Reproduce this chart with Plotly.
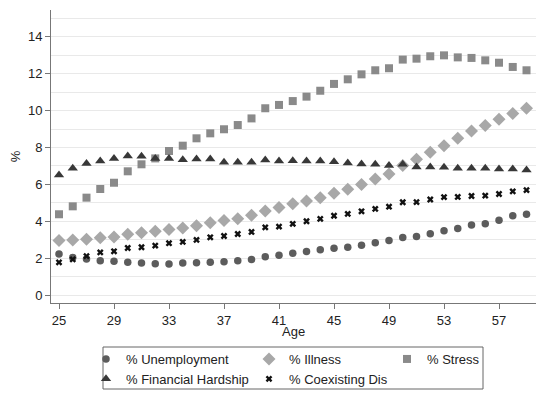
import plotly.graph_objects as go

ages = list(range(25, 60))

unemployment = [2.22, 2.04, 1.95, 1.86, 1.83, 1.77, 1.74, 1.70, 1.68, 1.74, 1.75, 1.77, 1.81, 1.86, 1.92,
                2.08, 2.15, 2.27, 2.36, 2.45, 2.53, 2.59, 2.70, 2.84, 2.95, 3.12, 3.18, 3.32, 3.48, 3.61,
                3.80, 3.86, 4.06, 4.30, 4.38]
illness = [2.95, 2.98, 3.03, 3.10, 3.14, 3.29, 3.37, 3.46, 3.55, 3.63, 3.76, 3.92, 4.04, 4.14, 4.32,
           4.55, 4.74, 4.95, 5.10, 5.27, 5.52, 5.74, 6.00, 6.29, 6.56, 7.02, 7.36, 7.74, 8.10, 8.50,
           8.90, 9.19, 9.53, 9.84, 10.13]
stress = [4.38, 4.81, 5.28, 5.75, 6.09, 6.71, 7.09, 7.41, 7.81, 8.10, 8.50, 8.77, 8.99, 9.22, 9.58,
          10.13, 10.31, 10.52, 10.76, 11.08, 11.45, 11.70, 11.97, 12.19, 12.30, 12.77, 12.82, 12.95, 13.00, 12.89,
          12.86, 12.73, 12.60, 12.37, 12.19]
hardship = [6.51, 6.87, 7.14, 7.27, 7.41, 7.54, 7.52, 7.41, 7.40, 7.34, 7.38, 7.38, 7.20, 7.20, 7.20,
            7.32, 7.27, 7.28, 7.27, 7.27, 7.23, 7.16, 7.11, 7.09, 7.02, 7.09, 6.95, 6.94, 6.93, 6.87,
            6.87, 6.87, 6.84, 6.84, 6.78]
coexisting = [1.77, 1.93, 2.11, 2.31, 2.37, 2.55, 2.59, 2.68, 2.81, 2.88, 2.99, 3.13, 3.20, 3.31, 3.42,
              3.67, 3.71, 3.86, 4.00, 4.13, 4.30, 4.40, 4.54, 4.67, 4.79, 5.03, 5.04, 5.18, 5.31, 5.32,
              5.37, 5.39, 5.48, 5.62, 5.69]

x_ticks = [25, 29, 33, 37, 41, 45, 49, 53, 57]
y_ticks = [0, 2, 4, 6, 8, 10, 12, 14]

FONT = "Liberation Sans, Arial, sans-serif"
FS = 13

series = [
    ("% Unemployment", unemployment, "circle", "#5c5c5c", 7.5, "legend"),
    ("% Illness", illness, "diamond", "#a8a8a8", 10, "legend2"),
    ("% Stress", stress, "square", "#8a8a8a", 8, "legend3"),
    ("% Financial Hardship", hardship, "triangle-up", "#383838", 9, "legend"),
    ("% Coexisting Dis", coexisting, "x", "#111111", 6, "legend2"),
]

fig = go.Figure()
for name, vals, sym, col, sz, leg in series:
    fig.add_trace(go.Scatter(
        x=ages, y=vals, mode="markers", name=name, legend=leg,
        marker=dict(symbol=sym, color=col, size=sz, line=dict(width=0)),
    ))

# page body has an 8px default margin; figure sized so the page layout matches
OFF = 8
W, H = 550 - OFF, 396 - OFF
L, T = 51 - OFF, 10 - OFF
R = W - (536 - OFF)
B = H - (303 - OFF)
pw, ph = W - L - R, H - T - B

def px(x):
    return (x - OFF - L) / pw

def py(y):
    return (H - B - (y - OFF)) / ph

leg_common = dict(orientation="v", yanchor="top", xanchor="left",
                  font=dict(family=FONT, size=FS, color="#222"),
                  bgcolor="rgba(0,0,0,0)", borderwidth=0, tracegroupgap=0)

fig.update_layout(
    width=W, height=H,
    margin=dict(l=L, r=R, t=T, b=B, autoexpand=False),
    plot_bgcolor="white", paper_bgcolor="white",
    font=dict(family=FONT, size=FS, color="#222"),
    xaxis=dict(
        range=[24.418, 59.69], tickmode="array", tickvals=x_ticks, automargin=False,
        showgrid=False, zeroline=False, showline=True, linecolor="#777", linewidth=1,
        ticks="outside", ticklen=5, tickcolor="#777",
    ),
    yaxis=dict(
        range=[-0.434, 15.46], tickmode="array", tickvals=y_ticks, automargin=False,
        showgrid=True, gridcolor="#e9e9e9", gridwidth=1,
        minor=dict(dtick=1, tick0=0, showgrid=True, gridcolor="#e9e9e9", ticks=""),
        zeroline=False, showline=True, linecolor="#777", linewidth=1,
        ticks="outside", ticklen=5, tickcolor="#777",
        title=dict(text="%", standoff=9, font=dict(size=FS)),
    ),
    legend=dict(x=px(86), y=py(344), **leg_common),
    legend2=dict(x=px(249), y=py(344), **leg_common),
    legend3=dict(x=px(387), y=py(344), **leg_common),
    annotations=[dict(text="Age", xref="paper", yref="paper", x=0.5, y=py(331),
                      xanchor="center", yanchor="middle", showarrow=False,
                      font=dict(family=FONT, size=FS, color="#222"))],
    shapes=[dict(type="rect", xref="paper", yref="paper",
                 x0=px(103), x1=px(483), y0=py(389), y1=py(347),
                 line=dict(color="#666", width=1), fillcolor="rgba(0,0,0,0)")],
)

fig.write_html("out.html")
